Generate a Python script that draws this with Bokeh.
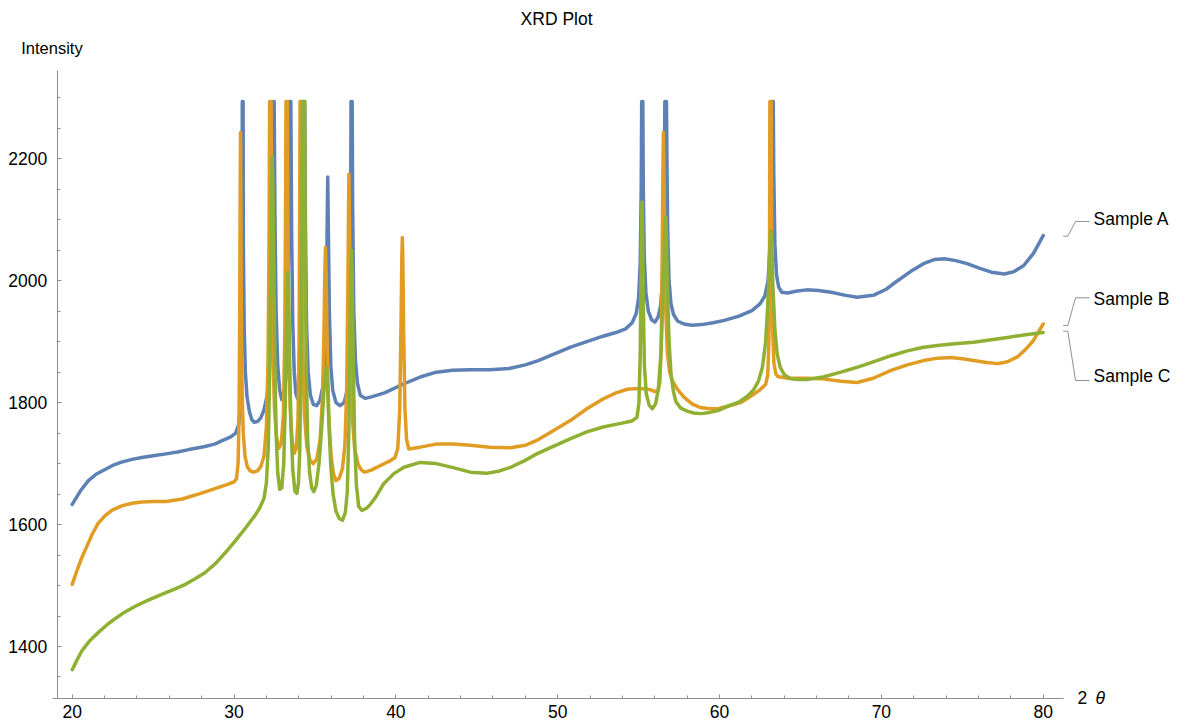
from bokeh.plotting import figure
from bokeh.models import Label, FixedTicker, Range1d
from bokeh.embed import file_html
from bokeh.resources import INLINE

title_text = "XRD Plot"
series_names = ["Sample A", "Sample B", "Sample C"]
series_colors = ["#5E81B5", "#E19C24", "#8FB032"]
y_axis_label = "Intensity"
x_major_ticks = [20, 30, 40, 50, 60, 70, 80]
y_major_ticks = [1400, 1600, 1800, 2000, 2200]

# (2 theta, intensity); peaks above 2294 are clipped there
sample_a = [(20.0,1633),(20.5,1655),(21.0,1672),(21.5,1683),(22.0,1690),(22.5,1697),(23.0,1702),(23.7,1707),(24.3,1710),(25.0,1713),(25.8,1716),(26.5,1719),(27.2,1723),(27.8,1726),(28.2,1728),(28.8,1732),(29.3,1738),(29.8,1744),(30.1,1750),(30.3,1765),(30.4,1800),(30.45,1880),(30.49,2050),(30.51,2294),(30.56,2294),(30.58,2050),(30.63,1920),(30.7,1850),(30.8,1810),(30.95,1785),(31.1,1772),(31.25,1768),(31.45,1769),(31.65,1775),(31.85,1788),(32.05,1812),(32.2,1860),(32.3,1950),(32.37,2100),(32.42,2294),(32.48,2294),(32.53,2100),(32.6,1950),(32.7,1862),(32.82,1820),(32.95,1805),(33.08,1810),(33.2,1840),(33.3,1910),(33.38,2080),(33.43,2294),(33.51,2294),(33.56,2080),(33.63,1930),(33.72,1850),(33.82,1815),(33.92,1807),(34.02,1818),(34.12,1860),(34.21,1960),(34.27,2150),(34.3,2294),(34.37,2294),(34.41,2100),(34.48,1930),(34.58,1850),(34.72,1812),(34.9,1797),(35.1,1795),(35.3,1803),(35.48,1825),(35.6,1865),(35.7,1960),(35.75,2080),(35.79,2170),(35.83,2080),(35.89,1950),(35.98,1860),(36.1,1820),(36.3,1800),(36.55,1795),(36.8,1800),(36.97,1818),(37.08,1860),(37.16,1960),(37.21,2150),(37.23,2294),(37.3,2294),(37.33,2120),(37.4,1950),(37.5,1870),(37.62,1833),(37.8,1812),(38.1,1807),(38.44,1809),(39.3,1816),(40.5,1831),(41.5,1842),(42.5,1850),(43.5,1853),(44.6,1854),(45.8,1854),(47.0,1856),(48.0,1862),(48.8,1869),(49.8,1880),(50.8,1891),(51.8,1900),(52.8,1909),(53.6,1915),(54.2,1921),(54.6,1931),(54.85,1946),(55.0,1972),(55.1,2030),(55.16,2150),(55.19,2294),(55.26,2294),(55.29,2150),(55.35,2040),(55.45,1980),(55.6,1950),(55.8,1936),(56.0,1932),(56.2,1940),(56.35,1958),(56.47,1995),(56.55,2080),(56.6,2200),(56.62,2294),(56.72,2294),(56.75,2200),(56.8,2080),(56.88,2000),(57.0,1962),(57.15,1945),(57.4,1934),(57.8,1929),(58.3,1927),(58.9,1928),(59.6,1931),(60.3,1935),(61.2,1942),(62.0,1951),(62.5,1962),(62.8,1975),(63.0,2000),(63.12,2060),(63.19,2180),(63.22,2294),(63.32,2294),(63.35,2180),(63.42,2060),(63.52,2010),(63.65,1990),(63.85,1981),(64.2,1980),(64.8,1983),(65.4,1985),(66.1,1984),(66.9,1981),(67.8,1976),(68.5,1973),(69.5,1976),(70.3,1986),(71.0,2000),(71.8,2015),(72.6,2028),(73.3,2035),(73.9,2036),(74.6,2033),(75.3,2028),(76.0,2021),(76.8,2014),(77.6,2011),(78.2,2015),(78.8,2025),(79.4,2045),(80.0,2074)]

sample_b = [(20.0,1502),(20.3,1525),(20.6,1546),(21.0,1570),(21.25,1585),(21.6,1602),(22.05,1615),(22.5,1624),(23.1,1631),(23.7,1635),(24.3,1637),(25.0,1638),(25.8,1638),(26.3,1640),(26.8,1642),(27.3,1646),(27.8,1650),(28.5,1656),(29.05,1661),(29.6,1666),(30.0,1670),(30.15,1675),(30.25,1700),(30.31,1780),(30.35,1950),(30.38,2150),(30.4,2243),(30.42,2150),(30.45,1950),(30.5,1820),(30.57,1750),(30.68,1712),(30.82,1695),(31.0,1688),(31.2,1686),(31.45,1688),(31.65,1695),(31.85,1712),(32.0,1760),(32.1,1870),(32.16,2050),(32.2,2294),(32.29,2294),(32.33,2050),(32.4,1880),(32.5,1790),(32.62,1745),(32.77,1725),(32.92,1733),(33.05,1780),(33.14,1920),(33.19,2150),(33.21,2294),(33.29,2294),(33.32,2100),(33.38,1900),(33.47,1790),(33.58,1740),(33.72,1717),(33.85,1725),(33.95,1770),(34.02,1900),(34.06,2150),(34.08,2294),(34.15,2294),(34.18,2100),(34.25,1880),(34.35,1780),(34.5,1728),(34.7,1705),(34.9,1700),(35.12,1708),(35.32,1740),(35.47,1810),(35.56,1920),(35.61,2010),(35.65,2055),(35.69,2010),(35.75,1900),(35.85,1780),(36.0,1712),(36.15,1683),(36.3,1672),(36.5,1676),(36.7,1692),(36.85,1730),(36.96,1820),(37.03,1980),(37.08,2130),(37.1,2175),(37.13,2100),(37.2,1900),(37.3,1780),(37.45,1725),(37.65,1700),(37.85,1690),(38.05,1686),(38.45,1689),(39.05,1697),(39.6,1704),(39.95,1710),(40.12,1725),(40.24,1790),(40.32,1930),(40.37,2040),(40.4,2071),(40.43,2040),(40.48,1920),(40.56,1790),(40.66,1740),(40.8,1724),(41.5,1727),(42.5,1732),(43.5,1732),(44.6,1730),(45.8,1727),(47.1,1726),(48.0,1730),(48.7,1738),(49.8,1755),(50.8,1771),(51.8,1790),(52.8,1806),(53.6,1816),(54.3,1822),(54.8,1823),(55.3,1823),(55.75,1821),(56.0,1818),(56.2,1820),(56.32,1835),(56.4,1900),(56.46,2050),(56.5,2180),(56.53,2243),(56.56,2180),(56.61,2060),(56.68,1950),(56.78,1880),(56.92,1850),(57.08,1836),(57.4,1822),(57.8,1809),(58.3,1798),(58.8,1792),(59.4,1790),(59.9,1790),(60.5,1794),(61.3,1800),(61.9,1810),(62.5,1821),(62.85,1830),(62.98,1845),(63.05,1900),(63.09,2050),(63.11,2294),(63.19,2294),(63.22,2050),(63.28,1920),(63.36,1865),(63.48,1847),(63.6,1843),(64.2,1840),(65.4,1840),(66.4,1839),(67.5,1835),(68.5,1833),(69.5,1840),(70.6,1853),(71.6,1862),(72.6,1869),(73.5,1873),(74.3,1874),(75.0,1872),(75.7,1869),(76.5,1866),(77.2,1864),(77.8,1867),(78.4,1875),(78.9,1887),(79.4,1902),(80.0,1929)]

sample_c = [(20.0,1362),(20.3,1378),(20.6,1393),(21.1,1410),(21.65,1424),(22.3,1439),(23.1,1454),(23.9,1466),(24.7,1476),(25.5,1485),(26.4,1495),(27.0,1502),(27.6,1511),(28.2,1521),(28.85,1536),(29.5,1555),(30.1,1574),(30.7,1594),(31.3,1615),(31.6,1628),(31.85,1643),(32.0,1668),(32.12,1730),(32.2,1850),(32.27,2030),(32.32,2160),(32.36,2203),(32.4,2160),(32.45,2030),(32.52,1870),(32.6,1750),(32.7,1685),(32.82,1658),(32.95,1660),(33.07,1700),(33.16,1790),(33.23,1900),(33.29,1990),(33.33,2014),(33.37,1990),(33.43,1880),(33.52,1760),(33.63,1690),(33.76,1655),(33.88,1651),(33.98,1668),(34.06,1720),(34.13,1850),(34.18,2050),(34.22,2294),(34.36,2294),(34.4,2050),(34.46,1860),(34.55,1740),(34.67,1685),(34.8,1660),(34.93,1654),(35.08,1664),(35.25,1700),(35.42,1760),(35.56,1820),(35.66,1852),(35.72,1858),(35.78,1830),(35.87,1760),(35.98,1695),(36.12,1650),(36.3,1622),(36.5,1610),(36.7,1607),(36.88,1620),(37.0,1655),(37.1,1760),(37.17,1920),(37.22,2020),(37.26,2050),(37.3,2010),(37.36,1880),(37.45,1740),(37.56,1665),(37.7,1630),(37.9,1623),(38.2,1627),(38.45,1634),(38.75,1645),(39.25,1667),(39.9,1684),(40.5,1694),(41.5,1702),(42.5,1700),(43.6,1693),(44.6,1686),(45.6,1684),(46.4,1688),(47.1,1694),(47.9,1704),(48.7,1716),(49.8,1729),(50.8,1741),(51.8,1752),(52.8,1760),(53.9,1766),(54.6,1770),(54.9,1776),(55.02,1800),(55.1,1880),(55.15,2010),(55.19,2110),(55.21,2129),(55.24,2090),(55.29,1960),(55.36,1860),(55.47,1815),(55.65,1796),(55.85,1790),(56.05,1798),(56.22,1822),(56.38,1880),(56.5,1970),(56.59,2060),(56.65,2100),(56.68,2104),(56.72,2070),(56.79,1980),(56.88,1900),(57.0,1848),(57.15,1818),(57.3,1802),(57.6,1791),(58.0,1786),(58.4,1783),(58.85,1782),(59.4,1784),(59.9,1787),(60.6,1795),(61.2,1801),(61.7,1810),(62.1,1821),(62.4,1835),(62.65,1858),(62.85,1900),(62.98,1960),(63.08,2030),(63.14,2070),(63.17,2082),(63.21,2065),(63.3,1990),(63.42,1920),(63.56,1880),(63.75,1858),(64.0,1846),(64.4,1839),(64.8,1838),(65.4,1838),(66.4,1842),(67.5,1850),(68.5,1858),(69.5,1867),(70.6,1877),(71.6,1885),(72.6,1891),(73.6,1894),(74.7,1897),(75.7,1899),(76.8,1903),(77.8,1907),(78.8,1911),(79.4,1913),(80.0,1915)]

FONT = "Liberation Sans"
AXIS_GREY = "#8c8c8c"

# frame covers the whole canvas; the axes are pinned at fixed data locations
X0, X1 = 15.5695, 88.9785
Y0, Y1 = 1270.41, 2459.67
X_AXIS_AT, Y_AXIS_AT = 1315.2, 19.073

p = figure(width=1188, height=725,
           x_range=Range1d(X0, X1), y_range=Range1d(Y0, Y1),
           output_backend="svg", toolbar_location=None,
           min_border_left=0, min_border_right=0, min_border_top=0, min_border_bottom=0)
p.grid.visible = False
p.outline_line_color = None
p.background_fill_color = "white"
p.border_fill_color = "white"

for data, color in zip([sample_a, sample_b, sample_c], series_colors):
    xs = [d[0] for d in data]
    ys = [d[1] for d in data]
    p.line(xs, ys, line_color=color, line_width=3.5, line_join="round", line_cap="round")

xa = p.xaxis[0]
ya = p.yaxis[0]
xa.ticker = FixedTicker(ticks=x_major_ticks, minor_ticks=[v for v in range(20, 81, 2)])
ya.ticker = FixedTicker(ticks=y_major_ticks, minor_ticks=[v for v in range(1350, 2301, 50)])
xa.fixed_location = X_AXIS_AT
ya.fixed_location = Y_AXIS_AT
xa.bounds = (18.78, 81.236)
ya.bounds = (X_AXIS_AT, 2344.84)
for ax in (xa, ya):
    ax.axis_line_color = AXIS_GREY
    ax.major_tick_line_color = AXIS_GREY
    ax.minor_tick_line_color = AXIS_GREY
    ax.major_tick_in = 4
    ax.major_tick_out = 0
    ax.minor_tick_in = 3
    ax.minor_tick_out = 0
    ax.major_label_text_font = FONT
    ax.major_label_text_font_size = "17.5px"
    ax.major_label_text_color = "black"
ya.major_label_standoff = 10
xa.major_label_standoff = 7

def add_label(x, y, text, size="17.5px", align="left", style="normal"):
    p.add_layout(Label(x=x, y=y, text=text, text_font=FONT, text_font_size=size,
                       text_align=align, text_baseline="middle", text_color="black",
                       text_font_style=style))

add_label(49.93, 2430.1, title_text, align="center")
add_label(16.85, 2381.0, y_axis_label, size="16.5px")
add_label(82.12, 1316.3, "2")
add_label(83.23, 1316.3, "θ", style="italic")

label_y = [2101.6, 1970.4, 1844.5]
for name, ly in zip(series_names, label_y):
    add_label(83.11, ly, name)

leaders = [
    ([81.236, 81.52, 81.996, 82.86], [2073.1, 2073.1, 2097.2, 2097.2]),
    ([81.236, 81.52, 81.996, 82.86], [1926.6, 1926.6, 1972.0, 1972.0]),
    ([81.236, 81.52, 81.996, 82.86], [1917.2, 1917.2, 1836.4, 1836.4]),
]
for lx, ly in leaders:
    p.line(lx, ly, line_color="#909090", line_width=1)

open("out.html", "w").write(file_html(p, INLINE))
